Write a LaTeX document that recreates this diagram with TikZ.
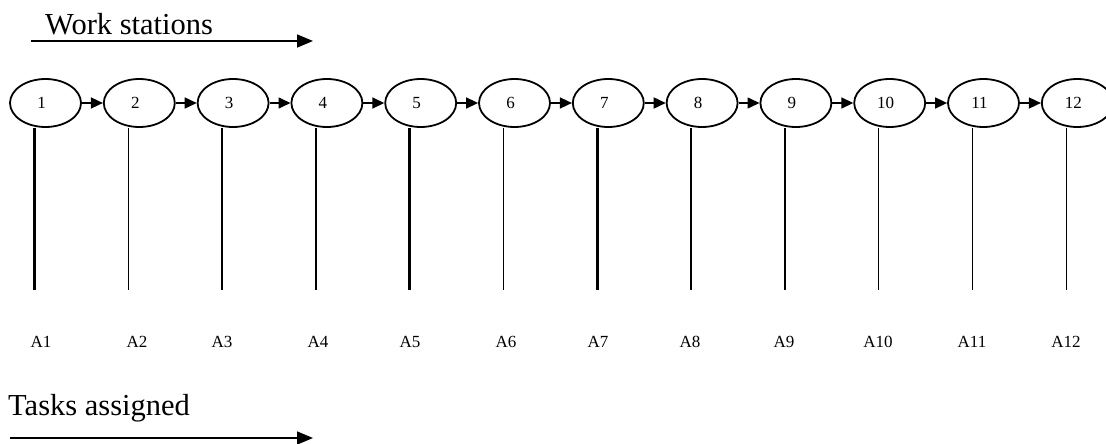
\documentclass[tikz,border=0pt]{standalone}
\usepackage{fontspec}
\setmainfont{Liberation Serif}
\usetikzlibrary{shapes.geometric,arrows.meta}
\begin{document}
\begin{tikzpicture}[x=1pt,y=-1pt,
  station/.style={draw,ellipse,line width=1.8pt,minimum width=71pt,minimum height=48pt,inner sep=0pt,font=\fontsize{17}{17}\selectfont},
  flow/.style={line width=1.6pt,-{Triangle[length=12pt,width=11pt]}},
  taskline/.style={line width=1.3pt},
  thickline/.style={line width=2.6pt},
  tasklabel/.style={font=\fontsize{17}{17}\selectfont,inner sep=0pt},
  title/.style={font=\fontsize{30.5}{30.5}\selectfont,inner sep=0pt,anchor=base west},
  bigarrow/.style={line width=1.6pt,-{Triangle[length=16pt,width=13pt]}}]
\useasboundingbox (0,0) rectangle (1106,444);
\clip (0,0) rectangle (1106,444);
% top title
\node[title] (ws) at (45,35) {Work stations};
\coordinate (wsA) at (31,41);
\coordinate (wsB) at (313,41);
\draw[bigarrow] (wsA) -- (wsB);
% stations
\foreach \i in {1,...,12}{
  \pgfmathsetmacro{\cx}{45.5+(\i-1)*93.8}
  \node[station] (e\i) at (\cx,103) {\hspace*{-8pt}\i};
  \coordinate (b\i) at ({\cx-11},290);
}
\foreach \i/\x in {1/41,2/137,3/222,4/318,5/410,6/506,7/598,8/690,9/784,10/878,11/972,12/1066}{
  \node[tasklabel] (a\i) at (\x,342) {A\i};
}
\foreach \i/\j in {1/2,2/3,3/4,4/5,5/6,6/7,7/8,8/9,9/10,10/11,11/12}{
  \draw[flow] (e\i.east) -- (e\j.west);
}
% vertical task lines
\foreach \i in {1,3,4,5,7,9}{
  \draw[thickline] ([xshift=-11pt]e\i.south) -- (b\i);
}
\foreach \i in {2,6,8,10,11,12}{
  \draw[taskline] ([xshift=-11pt]e\i.south) -- (b\i);
}
% bottom title
\node[title] (ta) at (8,415) {Tasks assigned};
\coordinate (taA) at (10,438);
\coordinate (taB) at (313,438);
\draw[bigarrow] (taA) -- (taB);
\end{tikzpicture}
\end{document}
